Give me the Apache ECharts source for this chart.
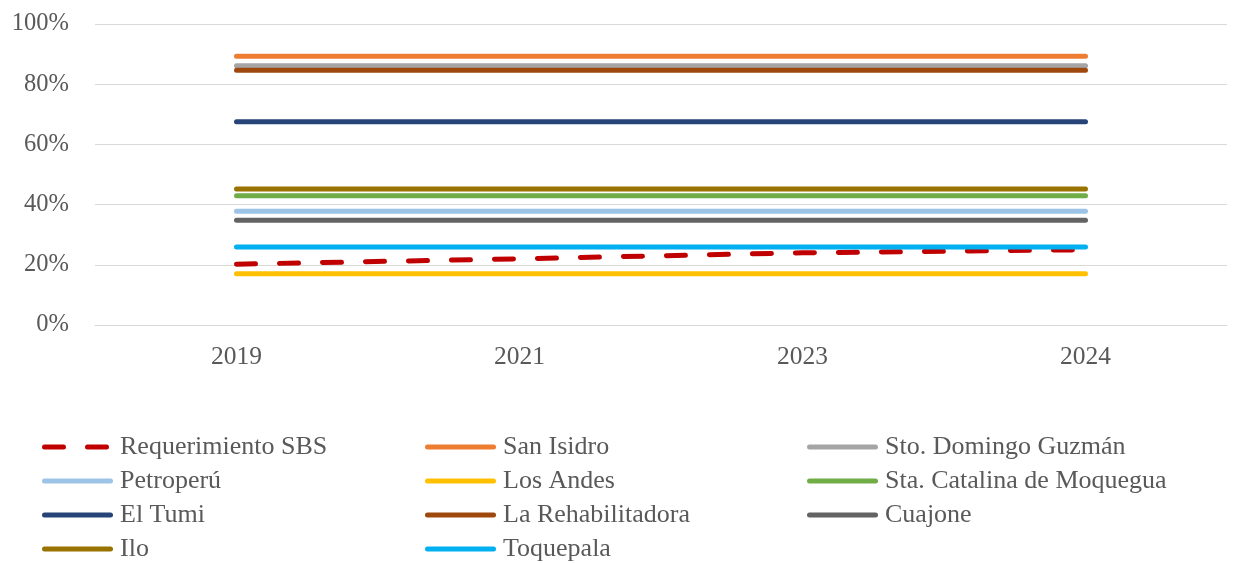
<!DOCTYPE html>
<html>
<head>
<meta charset="utf-8">
<script src="https://cdn.jsdelivr.net/npm/echarts@6/dist/echarts.min.js"></script>
<style>
  html, body { margin: 0; padding: 0; background: #fff; }
  #chart { width: 1234px; height: 563px; }
</style>
</head>
<body>
<div id="chart"></div>
<script>
// --- datos ---
const years = ['2019', '2021', '2023', '2024']
const requerimientoSBS = [20.2, 22, 24, 25]
const sanIsidro = [89.3, 89.3, 89.3, 89.3]
const stoDomingo = [86.1, 86.1, 86.1, 86.1]
const petroperu = [37.8, 37.8, 37.8, 37.8]
const losAndes = [17.0, 17.0, 17.0, 17.0]
const staCatalina = [42.9, 42.9, 42.9, 42.9]
const elTumi = [67.5, 67.5, 67.5, 67.5]
const laRehabilitadora = [84.6, 84.6, 84.6, 84.6]
const cuajone = [34.8, 34.8, 34.8, 34.8]
const ilo = [45.2, 45.2, 45.2, 45.2]
const toquepala = [25.9, 25.9, 25.9, 25.9]

const FONT = '"Liberation Serif", "Times New Roman", serif'
const TEXT = '#595959'
const DASH = [19, 24]

const seriesDefs = [
  { name: 'Requerimiento SBS', data: requerimientoSBS, color: '#C00000', dashed: true },
  { name: 'San Isidro', data: sanIsidro, color: '#ED7D31' },
  { name: 'Sto. Domingo Guzmán', data: stoDomingo, color: '#A5A5A5' },
  { name: 'Petroperú', data: petroperu, color: '#9DC3E6' },
  { name: 'Los Andes', data: losAndes, color: '#FFC000' },
  { name: 'Sta. Catalina de Moquegua', data: staCatalina, color: '#70AD47' },
  { name: 'El Tumi', data: elTumi, color: '#264478' },
  { name: 'La Rehabilitadora', data: laRehabilitadora, color: '#9E480E' },
  { name: 'Cuajone', data: cuajone, color: '#636363' },
  { name: 'Ilo', data: ilo, color: '#997300' },
  { name: 'Toquepala', data: toquepala, color: '#00B0F0' }
]

// leyenda en 3 columnas
const legendCol = (left, names) => ({
  orient: 'vertical',
  left: left,
  top: 430,
  height: 160,
  padding: 0,
  itemWidth: 66,
  itemHeight: 5,
  itemGap: 0,
  itemStyle: { opacity: 0 },
  lineStyle: { width: 5, cap: 'round' },
  data: names,
  textStyle: { color: TEXT, fontFamily: FONT, fontSize: 26, lineHeight: 34, padding: [0, 0, 0, 4.5] }
})

const chart = echarts.init(document.getElementById('chart'))
chart.setOption({
  animation: false,
  backgroundColor: '#fff',
  grid: { left: 95, right: 7, top: 24, bottom: 238, containLabel: false },
  legend: [
    legendCol(42, ['Requerimiento SBS', 'Petroperú', 'El Tumi', 'Ilo']),
    legendCol(425, ['San Isidro', 'Los Andes', 'La Rehabilitadora', 'Toquepala']),
    legendCol(807, ['Sto. Domingo Guzmán', 'Sta. Catalina de Moquegua', 'Cuajone'])
  ],
  xAxis: {
    type: 'category',
    data: years,
    boundaryGap: true,
    axisLine: { lineStyle: { color: '#D9D9D9', width: 1 } },
    axisTick: { show: false },
    axisLabel: { color: TEXT, fontFamily: FONT, fontSize: 25.5, margin: 19 }
  },
  yAxis: {
    type: 'value',
    min: 0,
    max: 100,
    interval: 20,
    axisLine: { show: false },
    axisTick: { show: false },
    splitLine: { lineStyle: { color: '#D9D9D9', width: 1 } },
    axisLabel: { color: TEXT, fontFamily: FONT, fontSize: 24.5, margin: 26, formatter: '{value}%' }
  },
  series: seriesDefs.map((s, i) => ({
    name: s.name,
    type: 'line',
    data: s.data,
    symbol: 'none',
    z: i === 0 ? 1 : 2,
    color: s.color,
    lineStyle: {
      color: s.color,
      width: 5,
      cap: 'round',
      type: s.dashed ? DASH : 'solid'
    }
  }))
})
</script>
</body>
</html>
